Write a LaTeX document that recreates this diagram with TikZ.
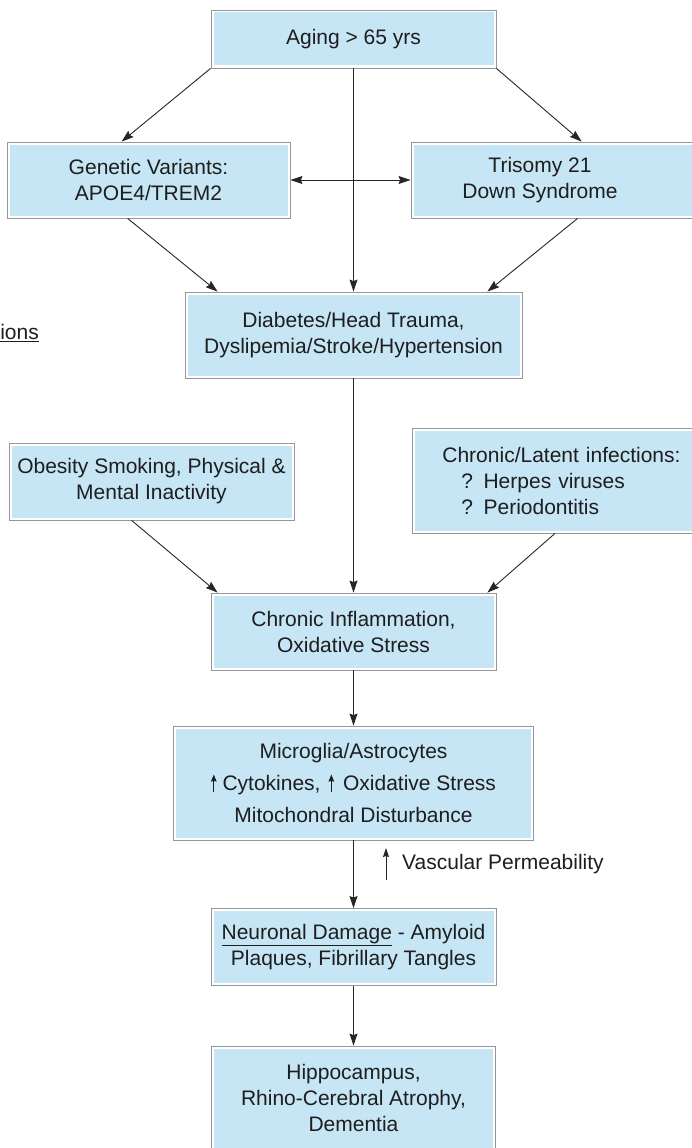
\documentclass[tikz,border=0pt]{standalone}
\usepackage{fontspec}
\setmainfont{Liberation Sans}
\usetikzlibrary{arrows.meta,positioning}

\definecolor{boxblue}{RGB}{198,229,245}
\definecolor{boxline}{RGB}{150,150,150}
\definecolor{txtgray}{RGB}{30,30,30}

% small up arrow used inside the text
\newcommand{\flechita}{\tikz[baseline=0pt]\draw[line width=0.9pt,-{Stealth[length=7pt,width=5.5pt,inset=0.5pt]}] (0pt,-1pt) -- (0pt,16pt);}

\begin{document}
\begin{tikzpicture}[x=1pt, y=-1pt,
  cajon/.style={draw=boxline, line width=0.8pt, fill=white, inner sep=0pt,
    font=\fontsize{21}{26}\selectfont, text=txtgray, align=center,
    path picture={\fill[boxblue] ([shift={(2.5pt,2.5pt)}]path picture bounding box.south west)
      rectangle ([shift={(-2.5pt,-2.5pt)}]path picture bounding box.north east);}},
  texto/.style={inner sep=0pt, font=\fontsize{21}{26}\selectfont, text=txtgray},
  flecha/.style={line width=0.9pt, draw=black!85, -{Stealth[length=12pt,width=8pt,inset=1.5pt]}},
  doble/.style={line width=0.9pt, draw=black!85, {Stealth[length=12pt,width=8pt,inset=1.5pt]}-{Stealth[length=12pt,width=8pt,inset=1.5pt]}}
]
\useasboundingbox (0,0) rectangle (691,1148);

% boxes
\node[cajon, minimum width=285pt, minimum height=58pt] (edad) at (353.5,39) {Aging > 65 yrs};
\node[cajon, minimum width=283pt, minimum height=76pt] (genes) at (148.5,180) {Genetic Variants:\\APOE4/TREM2};
\node[cajon, minimum width=289pt, minimum height=76pt] (trisomia) at (555.5,180) {Trisomy 21\hspace*{31pt}\\Down Syndrome\hspace*{31pt}};
\node[cajon, minimum width=337pt, minimum height=86pt] (diabetes) at (353.5,335) {Diabetes/Head Trauma,\\Dyslipemia/Stroke/Hypertension};
\node[cajon, minimum width=285pt, minimum height=77pt] (obesidad) at (151.5,481.5) {Obesity Smoking, Physical \&\\Mental Inactivity};
\node[cajon, anchor=west, inner xsep=30pt, text width=260pt, align=left, minimum height=105pt] (infeccion) at (412,480.5)
  {Chronic/Latent infections:\\\hspace*{19pt}? Herpes viruses\\\hspace*{19pt}? Periodontitis};
\node[cajon, minimum width=285pt, minimum height=77pt] (inflam) at (353.5,631.5) {Chronic Inflammation,\\Oxidative Stress};
\node[cajon, minimum width=360pt, minimum height=114pt, font=\fontsize{21}{32}\selectfont] (microglia) at (353.5,783)
  {Microglia/Astrocytes\\\flechita\hspace{6pt}Cytokines,\hspace{8pt}\flechita\hspace{9pt}Oxidative Stress\\Mitochondral Disturbance};
\node[cajon, minimum width=285pt, minimum height=77pt] (neurona) at (353.5,947) {\underline{Neuronal Damage} - Amyloid\\Plaques, Fibrillary Tangles};
\node[cajon, minimum width=284pt, minimum height=104pt] (hipo) at (353.5,1098) {Hippocampus,\\Rhino-Cerebral Atrophy,\\Dementia};

% loose texts
\node[texto, anchor=east] (nota) at (39,333) {\underline{ions}};
\node[texto, anchor=west] (vascular) at (402,864) {Vascular Permeability};

% connectors
\draw[flecha] (edad.south west) -- ([xshift=115pt]genes.north west);
\draw[flecha] (edad.south east) -- ([xshift=171pt]trisomia.north west);
\draw[flecha] (edad) -- (diabetes);
\draw[doble] (genes) -- (trisomia);
\draw[flecha] ([xshift=121pt]genes.south west) -- ([xshift=33pt]diabetes.north west);
\draw[flecha] ([xshift=167pt]trisomia.south west) -- ([xshift=-35pt]diabetes.north east);
\draw[flecha] (diabetes) -- (inflam);
\draw[flecha] ([xshift=123pt]obesidad.south west) -- ([xshift=7pt]inflam.north west);
\draw[flecha] ([xshift=143pt]infeccion.south west) -- ([xshift=-9pt]inflam.north east);
\draw[flecha] (inflam) -- (microglia);
\draw[flecha] (microglia) -- (neurona);
\draw[flecha] (neurona) -- (hipo);
\draw[flecha, -{Stealth[length=9pt,width=6pt,inset=1pt]}] ([shift={(-16pt,-16pt)}]vascular.west) -- ([shift={(-16pt,16pt)}]vascular.west);
\end{tikzpicture}
\end{document}
